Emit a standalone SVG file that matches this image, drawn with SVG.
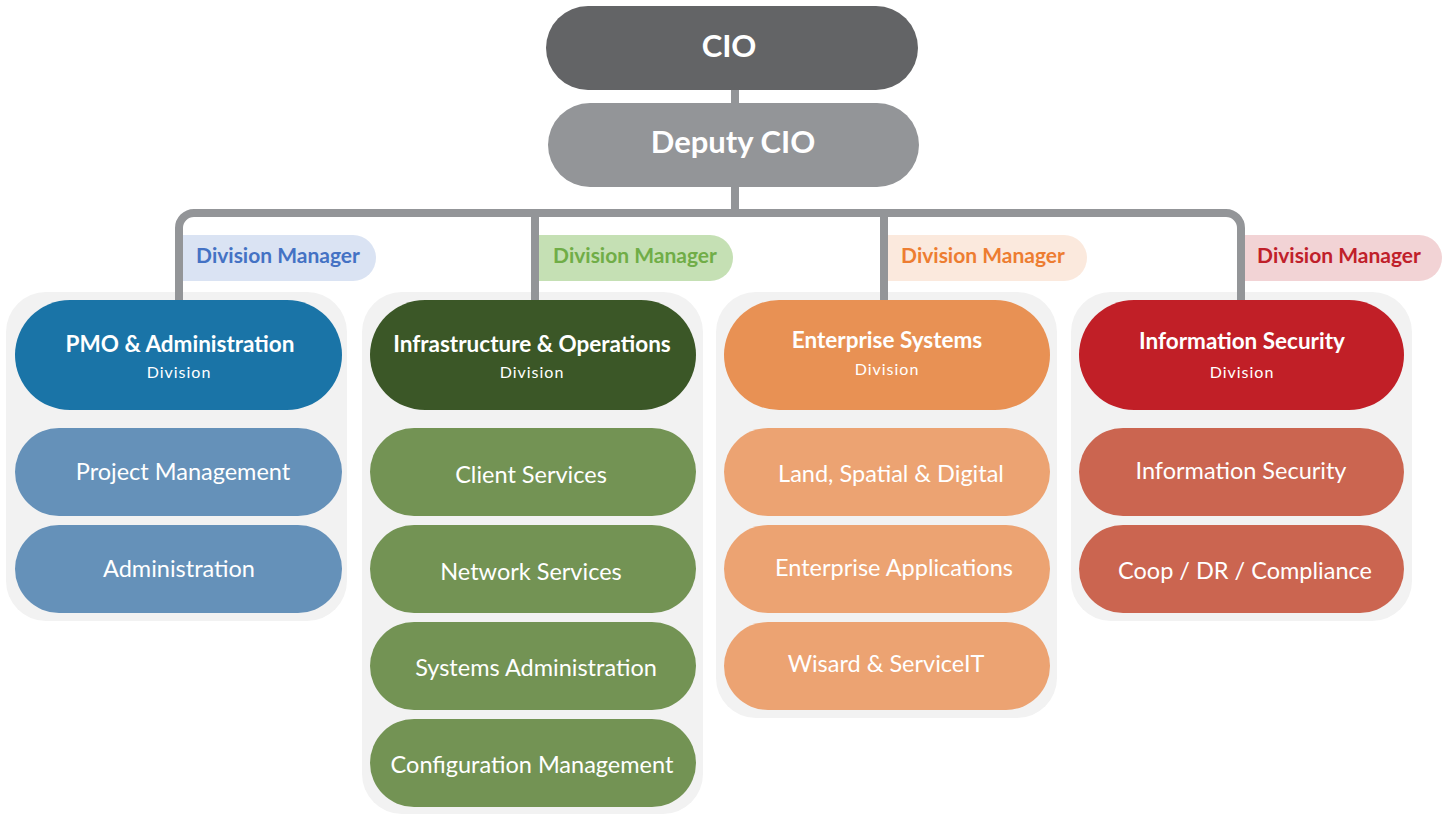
<svg xmlns="http://www.w3.org/2000/svg" width="1447" height="814" viewBox="0 0 1447 814">
<style>
.bg{fill:#f2f2f2}
.ln{fill:none;stroke:#939598;stroke-width:8}
.t{font-family:Lato,"Open Sans",sans-serif;fill:#fff;text-anchor:middle}
.top{font-size:31px;font-weight:bold}
.hd{font-size:22.5px;font-weight:bold}
.dv{font-size:16px;letter-spacing:1px}
.sb{font-size:23.5px}
.dm{font-family:Lato,"Open Sans",sans-serif;font-size:21px;font-weight:bold;text-anchor:middle}
</style>
<rect width="1447" height="814" fill="#fff"/>
<g id="columns">
<rect class="bg" x="6" y="292" width="341" height="329" rx="40"/>
<rect class="bg" x="362" y="292" width="341" height="522" rx="40"/>
<rect class="bg" x="716" y="292" width="341" height="426" rx="40"/>
<rect class="bg" x="1071" y="292" width="341" height="329" rx="40"/>
</g>
<g id="manager-labels">
<path d="M183 235 H353 A23 23 0 0 1 353 281 H183 Z" fill="#dae3f3"/>
<text class="dm" x="278" y="263" fill="#4472c4">Division Manager</text>
<path d="M537 235 H710 A23 23 0 0 1 710 281 H537 Z" fill="#c5e0b4"/>
<text class="dm" x="635" y="263" fill="#70ad47">Division Manager</text>
<path d="M886 235 H1064 A23 23 0 0 1 1064 281 H886 Z" fill="#fbe9dd"/>
<text class="dm" x="983" y="263" fill="#ed7d31">Division Manager</text>
<path d="M1243 235 H1419 A23 23 0 0 1 1419 281 H1243 Z" fill="#f2d3d5"/>
<text class="dm" x="1339" y="263" fill="#c0202a">Division Manager</text>
</g>
<g id="connectors">
<line class="ln" x1="735" y1="88" x2="735" y2="105"/>
<line class="ln" x1="735" y1="185" x2="735" y2="213"/>
<path class="ln" d="M179 302 V228 A15 15 0 0 1 194 213 H1226 A15 15 0 0 1 1241 228 V302"/>
<line class="ln" x1="535" y1="213" x2="535" y2="302"/>
<line class="ln" x1="884" y1="213" x2="884" y2="302"/>
</g>
<g id="cio">
<rect x="546" y="6" width="372" height="84" rx="42" fill="#636466"/>
<text class="t top" x="729" y="57">CIO</text>
</g>
<g id="deputy-cio">
<rect x="548" y="103" width="371" height="84" rx="42" fill="#939598"/>
<text class="t top" x="733" y="153">Deputy CIO</text>
</g>
<g id="pmo">
<rect x="15" y="300" width="327" height="110" rx="55" fill="#1a74a7"/>
<text class="t hd" x="180" y="352">PMO &amp; Administration</text>
<text class="t dv" x="179" y="378">Division</text>
</g>
<g id="pmo-project">
<rect x="15" y="428" width="327" height="88" rx="44" fill="#6591b9"/>
<text class="t sb" x="183" y="480">Project Management</text>
</g>
<g id="pmo-admin">
<rect x="15" y="525" width="327" height="88" rx="44" fill="#6591b9"/>
<text class="t sb" x="179" y="577">Administration</text>
</g>
<g id="infra">
<rect x="370" y="300" width="326" height="110" rx="55" fill="#3b5727"/>
<text class="t hd" x="532" y="352">Infrastructure &amp; Operations</text>
<text class="t dv" x="532" y="378">Division</text>
</g>
<g id="infra-client">
<rect x="370" y="428" width="326" height="88" rx="44" fill="#739354"/>
<text class="t sb" x="531" y="483">Client Services</text>
</g>
<g id="infra-network">
<rect x="370" y="525" width="326" height="88" rx="44" fill="#739354"/>
<text class="t sb" x="531" y="580">Network Services</text>
</g>
<g id="infra-sysadmin">
<rect x="370" y="622" width="326" height="88" rx="44" fill="#739354"/>
<text class="t sb" x="536" y="676">Systems Administration</text>
</g>
<g id="infra-config">
<rect x="370" y="719" width="326" height="88" rx="44" fill="#739354"/>
<text class="t sb" x="532" y="773">Configuration Management</text>
</g>
<g id="enterprise">
<rect x="724" y="300" width="326" height="110" rx="55" fill="#e89154"/>
<text class="t hd" x="887" y="348">Enterprise Systems</text>
<text class="t dv" x="887" y="375">Division</text>
</g>
<g id="ent-land">
<rect x="724" y="428" width="326" height="88" rx="44" fill="#eca372"/>
<text class="t sb" x="891" y="482">Land, Spatial &amp; Digital</text>
</g>
<g id="ent-apps">
<rect x="724" y="525" width="326" height="88" rx="44" fill="#eca372"/>
<text class="t sb" x="894" y="576">Enterprise Applications</text>
</g>
<g id="ent-wisard">
<rect x="724" y="622" width="326" height="88" rx="44" fill="#eca372"/>
<text class="t sb" x="886" y="672">Wisard &amp; ServiceIT</text>
</g>
<g id="infosec">
<rect x="1079" y="300" width="325" height="110" rx="55" fill="#c11f27"/>
<text class="t hd" x="1242" y="349">Information Security</text>
<text class="t dv" x="1242" y="378">Division</text>
</g>
<g id="infosec-sub">
<rect x="1079" y="428" width="325" height="88" rx="44" fill="#cb6550"/>
<text class="t sb" x="1241" y="479">Information Security</text>
</g>
<g id="infosec-coop">
<rect x="1079" y="525" width="325" height="88" rx="44" fill="#cb6550"/>
<text class="t sb" x="1245" y="579">Coop / DR / Compliance</text>
</g>
</svg>
